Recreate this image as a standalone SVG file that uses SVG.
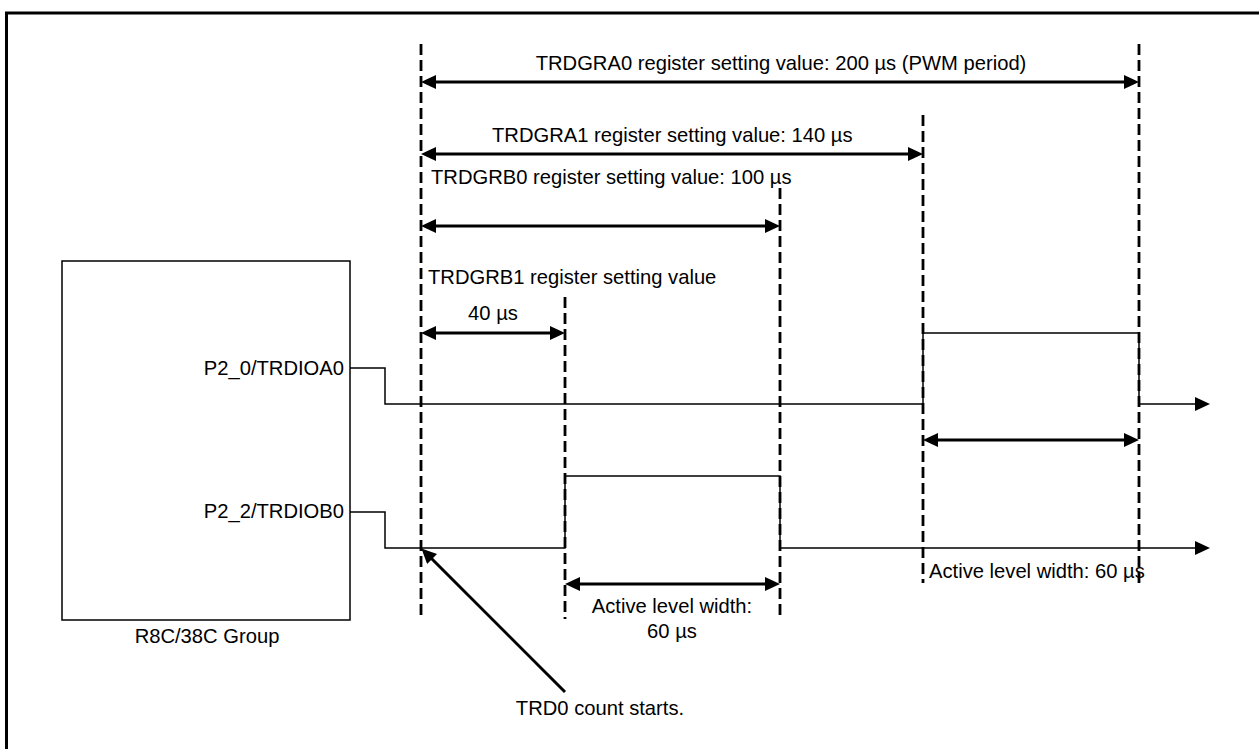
<svg xmlns="http://www.w3.org/2000/svg" width="1259" height="749" viewBox="0 0 1259 749">
<style>
text{font-family:"Liberation Sans",Arial,sans-serif;font-size:20.2px;fill:#000}
.dash{stroke:#000;stroke-width:2.8;stroke-dasharray:11,5;fill:none}
.dim{stroke:#000;stroke-width:3;fill:none}
.wave{stroke:#000;stroke-width:1.5;fill:none}
.frame{stroke:#000;stroke-width:3;fill:none}
</style>
<defs>
<marker id="ah" markerUnits="userSpaceOnUse" markerWidth="16" markerHeight="15" refX="10" refY="7" orient="auto-start-reverse" viewBox="0 0 16 15">
<path d="M0,0 L15,7 L0,14 z" fill="#000"/>
</marker>
</defs>
<g id="frame">
<path class="frame" d="M6.5,749 V13 H1259"/>
</g>
<g id="mcu">
<rect x="62" y="261" width="288" height="359" fill="none" stroke="#000" stroke-width="1.5"/>
<text x="344" y="375" text-anchor="end">P2_0/TRDIOA0</text>
<text x="344" y="518" text-anchor="end">P2_2/TRDIOB0</text>
<text x="207" y="643" text-anchor="middle">R8C/38C Group</text>
</g>
<g id="guides">
<line class="dash" x1="421" y1="44" x2="421" y2="619"/>
<line class="dash" x1="565" y1="297" x2="565" y2="619"/>
<line class="dash" x1="780" y1="188" x2="780" y2="619"/>
<line class="dash" x1="923" y1="115" x2="923" y2="583"/>
<line class="dash" x1="1139" y1="44" x2="1139" y2="583"/>
</g>
<g id="connectors">
<line class="dim" x1="426" y1="82" x2="1134" y2="82" marker-start="url(#ah)" marker-end="url(#ah)"/>
<line class="dim" x1="426" y1="154" x2="918" y2="154" marker-start="url(#ah)" marker-end="url(#ah)"/>
<line class="dim" x1="426" y1="226" x2="775" y2="226" marker-start="url(#ah)" marker-end="url(#ah)"/>
<line class="dim" x1="426" y1="333" x2="560" y2="333" marker-start="url(#ah)" marker-end="url(#ah)"/>
<line class="dim" x1="928" y1="440" x2="1134" y2="440" marker-start="url(#ah)" marker-end="url(#ah)"/>
<line class="dim" x1="570" y1="584" x2="775" y2="584" marker-start="url(#ah)" marker-end="url(#ah)"/>
<line class="dim" x1="565" y1="692" x2="425" y2="552" marker-end="url(#ah)"/>
</g>
<g id="waveA">
<polyline class="wave" points="350,368 385,368 385,404 923,404 923,333 1139,333 1139,404 1205,404" marker-end="url(#ah)"/>
</g>
<g id="waveB">
<polyline class="wave" points="350,512 385,512 385,548 565,548 565,476 780,476 780,548 1205,548" marker-end="url(#ah)"/>
</g>
<g id="labels">
<text x="781" y="70" text-anchor="middle">TRDGRA0 register setting value: 200 µs (PWM period)</text>
<text x="492" y="142">TRDGRA1 register setting value: 140 µs</text>
<text x="431" y="184">TRDGRB0 register setting value: 100 µs</text>
<text x="428" y="284">TRDGRB1 register setting value</text>
<text x="493" y="320" text-anchor="middle">40 µs</text>
<text x="672" y="613" text-anchor="middle">Active level width:</text>
<text x="672" y="638" text-anchor="middle">60 µs</text>
<text x="929" y="578">Active level width: 60 µs</text>
<text x="600" y="715" text-anchor="middle">TRD0 count starts.</text>
</g>
</svg>
